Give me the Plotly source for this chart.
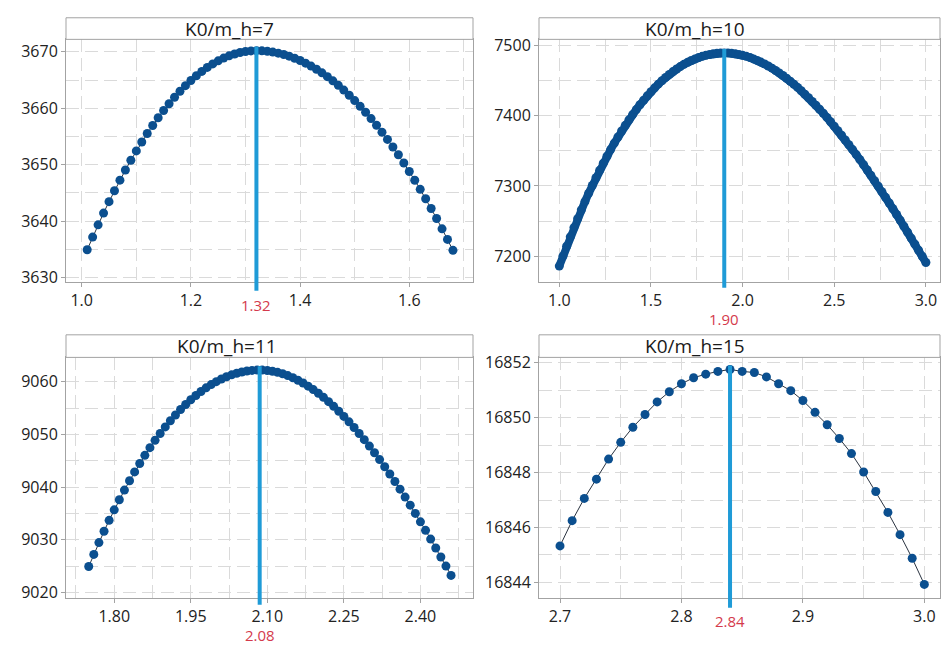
import plotly.graph_objects as go

W, H = 941, 650

titles = ["K0/m_h=7", "K0/m_h=10", "K0/m_h=11", "K0/m_h=15"]

x_k7 = [1.01, 1.02, 1.03, 1.04, 1.05, 1.06, 1.07, 1.08, 1.09, 1.10,
        1.11, 1.12, 1.13, 1.14, 1.15, 1.16, 1.17, 1.18, 1.19, 1.20,
        1.21, 1.22, 1.23, 1.24, 1.25, 1.26, 1.27, 1.28, 1.29, 1.30,
        1.31, 1.32, 1.33, 1.34, 1.35, 1.36, 1.37, 1.38, 1.39, 1.40,
        1.41, 1.42, 1.43, 1.44, 1.45, 1.46, 1.47, 1.48, 1.49, 1.50,
        1.51, 1.52, 1.53, 1.54, 1.55, 1.56, 1.57, 1.58, 1.59, 1.60,
        1.61, 1.62, 1.63, 1.64, 1.65, 1.66, 1.67, 1.68]
y_k7 = [3634.93, 3637.17, 3639.34, 3641.43, 3643.45, 3645.39, 3647.26, 3649.06, 3650.79, 3652.44,
        3654.02, 3655.52, 3656.95, 3658.31, 3659.59, 3660.80, 3661.94, 3663.01, 3664.00, 3664.92,
        3665.76, 3666.53, 3667.23, 3667.85, 3668.40, 3668.88, 3669.28, 3669.61, 3669.87, 3670.05,
        3670.16, 3670.20, 3670.17, 3670.09, 3669.95, 3669.76, 3669.52, 3669.22, 3668.86, 3668.45,
        3667.99, 3667.47, 3666.90, 3666.27, 3665.59, 3664.85, 3664.06, 3663.21, 3662.31, 3661.35,
        3660.34, 3659.28, 3658.16, 3656.99, 3655.76, 3654.48, 3653.14, 3651.75, 3650.30, 3648.80,
        3647.24, 3645.63, 3643.96, 3642.24, 3640.47, 3638.64, 3636.76, 3634.82]

x_k10 = [1.00, 1.02, 1.04, 1.06, 1.08, 1.10, 1.12, 1.14, 1.16, 1.18,
         1.20, 1.22, 1.24, 1.26, 1.28, 1.30, 1.32, 1.34, 1.36, 1.38,
         1.40, 1.42, 1.44, 1.46, 1.48, 1.50, 1.52, 1.54, 1.56, 1.58,
         1.60, 1.62, 1.64, 1.66, 1.68, 1.70, 1.72, 1.74, 1.76, 1.78,
         1.80, 1.82, 1.84, 1.86, 1.88, 1.90, 1.92, 1.94, 1.96, 1.98,
         2.00, 2.02, 2.04, 2.06, 2.08, 2.10, 2.12, 2.14, 2.16, 2.18,
         2.20, 2.22, 2.24, 2.26, 2.28, 2.30, 2.32, 2.34, 2.36, 2.38,
         2.40, 2.42, 2.44, 2.46, 2.48, 2.50, 2.52, 2.54, 2.56, 2.58,
         2.60, 2.62, 2.64, 2.66, 2.68, 2.70, 2.72, 2.74, 2.76, 2.78,
         2.80, 2.82, 2.84, 2.86, 2.88, 2.90, 2.92, 2.94, 2.96, 2.98,
         3.00]
y_k10 = [7186.1, 7200.3, 7214.2, 7227.6, 7240.8, 7253.5, 7265.8, 7277.8, 7289.5, 7300.7,
         7311.6, 7322.2, 7332.4, 7342.2, 7351.7, 7360.8, 7369.6, 7378.1, 7386.2, 7394.0,
         7401.5, 7408.6, 7415.4, 7421.9, 7428.1, 7434.0, 7439.5, 7444.7, 7449.6, 7454.3,
         7458.6, 7462.6, 7466.3, 7469.7, 7472.9, 7475.7, 7478.3, 7480.6, 7482.6, 7484.3,
         7485.7, 7486.9, 7487.8, 7488.5, 7488.9, 7489.0, 7488.9, 7488.5, 7487.8, 7486.9,
         7485.7, 7484.3, 7482.6, 7480.6, 7478.5, 7476.1, 7473.5, 7470.6, 7467.5, 7464.2,
         7460.7, 7457.0, 7453.1, 7448.9, 7444.6, 7440.1, 7435.3, 7430.4, 7425.4, 7420.1,
         7414.7, 7409.1, 7403.3, 7397.4, 7391.3, 7385.0, 7378.6, 7372.1, 7365.4, 7358.6,
         7351.7, 7344.6, 7337.4, 7330.1, 7322.6, 7315.1, 7307.4, 7299.7, 7291.8, 7283.8,
         7275.8, 7267.6, 7259.4, 7251.1, 7242.7, 7234.3, 7225.8, 7217.2, 7208.6, 7199.9,
         7191.1]

x_k11 = [1.75, 1.76, 1.77, 1.78, 1.79, 1.80, 1.81, 1.82, 1.83, 1.84,
         1.85, 1.86, 1.87, 1.88, 1.89, 1.90, 1.91, 1.92, 1.93, 1.94,
         1.95, 1.96, 1.97, 1.98, 1.99, 2.00, 2.01, 2.02, 2.03, 2.04,
         2.05, 2.06, 2.07, 2.08, 2.09, 2.10, 2.11, 2.12, 2.13, 2.14,
         2.15, 2.16, 2.17, 2.18, 2.19, 2.20, 2.21, 2.22, 2.23, 2.24,
         2.25, 2.26, 2.27, 2.28, 2.29, 2.30, 2.31, 2.32, 2.33, 2.34,
         2.35, 2.36, 2.37, 2.38, 2.39, 2.40, 2.41, 2.42, 2.43, 2.44,
         2.45, 2.46]
y_k11 = [9024.94, 9027.24, 9029.48, 9031.63, 9033.70, 9035.69, 9037.60, 9039.44, 9041.20, 9042.88,
         9044.48, 9046.02, 9047.48, 9048.87, 9050.17, 9051.42, 9052.58, 9053.68, 9054.71, 9055.67,
         9056.56, 9057.38, 9058.14, 9058.83, 9059.44, 9060.00, 9060.50, 9060.93, 9061.29, 9061.59,
         9061.84, 9062.02, 9062.13, 9062.19, 9062.19, 9062.12, 9061.98, 9061.77, 9061.49, 9061.15,
         9060.74, 9060.27, 9059.74, 9059.15, 9058.50, 9057.79, 9057.02, 9056.20, 9055.32, 9054.39,
         9053.41, 9052.38, 9051.30, 9050.17, 9049.00, 9047.78, 9046.52, 9045.22, 9043.87, 9042.49,
         9041.06, 9039.61, 9038.11, 9036.58, 9035.02, 9033.42, 9031.80, 9030.14, 9028.46, 9026.75,
         9025.02, 9023.26]

x_k15 = [2.70, 2.71, 2.72, 2.73, 2.74, 2.75, 2.76, 2.77, 2.78, 2.79,
         2.80, 2.81, 2.82, 2.83, 2.84, 2.85, 2.86, 2.87, 2.88, 2.89,
         2.90, 2.91, 2.92, 2.93, 2.94, 2.95, 2.96, 2.97, 2.98, 2.99,
         3.00]
y_k15 = [16845.33, 16846.25, 16847.06, 16847.76, 16848.49, 16849.10, 16849.65, 16850.11, 16850.57, 16850.94,
         16851.23, 16851.45, 16851.58, 16851.68, 16851.75, 16851.68, 16851.64, 16851.48, 16851.23, 16850.98,
         16850.62, 16850.19, 16849.74, 16849.24, 16848.69, 16848.02, 16847.31, 16846.55, 16845.74, 16844.88,
         16843.93]

peak_x = [1.32, 1.90, 2.085, 2.84]
peak_labels = ["1.32", "1.90", "2.08", "2.84"]

xs = [x_k7, x_k10, x_k11, x_k15]
ys = [y_k7, y_k10, y_k11, y_k15]
for a, b in zip(xs, ys):
    if len(a) != len(b):
        raise ValueError(f"length mismatch {len(a)} vs {len(b)}")

# ---- layout of each panel (pixel geometry & axis styling) ----
PANELS = [
    dict(left=66, right=473, top=34, bottom=281, frame_top=12,
         xrange=[0.9712, 1.7167], yrange=[3629.25, 3672.2],
         xtick0=1.0, xdtick=0.2, xminor=0.1, ydtick=10, yminor=5, xfmt=".1f",
         label_y=305, line_bottom=290, title_cx=229, band=False),
    dict(left=539, right=940, top=34, bottom=281, frame_top=12,
         xrange=[0.8893, 3.077], yrange=[7163.7, 7508.4],
         xtick0=1.0, xdtick=0.5, xminor=0.25, ydtick=100, yminor=50, xfmt=".1f",
         label_y=319, line_bottom=287, title_cx=695, band=True),
    dict(left=66, right=473, top=358, bottom=603, frame_top=335,
         xrange=[1.7055, 2.503], yrange=[9019.0, 9064.6],
         xtick0=1.8, xdtick=0.15, xminor=0.075, ydtick=10, yminor=5, xfmt=".2f",
         label_y=641, line_bottom=610, title_cx=227, band=False),
    dict(left=539, right=940, top=358, bottom=603, frame_top=335,
         xrange=[2.6827, 3.0129], yrange=[16843.44, 16852.19],
         xtick0=2.7, xdtick=0.1, xminor=0.05, ydtick=2, yminor=1, xfmt=".1f",
         label_y=627, line_bottom=613, title_cx=695, band=False),
]

FONT = "Open Sans, Noto Sans, sans-serif"
TXT = "#222222"
FRAME = "#a3a3a3"
GRID = "#dadada"
DASH = "13px,6px"
MARK = "#0b4f8f"
VLINE = "#1f9bd7"
RED = "#d43a4c"

fig = go.Figure()
layout = dict(width=W, height=H, margin=dict(l=0, r=0, t=0, b=0),
              paper_bgcolor="white", plot_bgcolor="white", showlegend=False,
              font=dict(family=FONT, color=TXT))
shapes, annotations = [], []

for i, p in enumerate(PANELS):
    n = "" if i == 0 else str(i + 1)
    xa, ya = "x" + n, "y" + n
    if p["band"]:
        line_style = dict(color=MARK, width=8)
    else:
        line_style = dict(color="#2a3340", width=1)
    fig.add_trace(go.Scatter(
        x=xs[i], y=ys[i], xaxis=xa, yaxis=ya, mode="lines+markers",
        marker=dict(size=9, color=MARK),
        line=line_style, hoverinfo="x+y"))

    xdom = [p["left"] / W, p["right"] / W]
    ydom = [1 - p["bottom"] / H, 1 - p["top"] / H]
    common = dict(showgrid=True, gridcolor=GRID, griddash=DASH, gridwidth=1,
                  showline=True, mirror=True, linecolor=FRAME, linewidth=1,
                  ticks="outside", ticklen=4, tickcolor=FRAME, zeroline=False,
                  tickfont=dict(size=16, color=TXT, family=FONT))
    layout["xaxis" + n] = dict(domain=xdom, range=p["xrange"], anchor=ya,
                               tick0=p["xtick0"], dtick=p["xdtick"], tickformat=p["xfmt"],
                               minor=dict(tick0=p["xtick0"], dtick=p["xminor"], showgrid=True,
                                          gridcolor=GRID, griddash=DASH, ticks=""),
                               **common)
    layout["yaxis" + n] = dict(domain=ydom, range=p["yrange"], anchor=xa,
                               tick0=0, dtick=p["ydtick"], tickformat="d",
                               minor=dict(tick0=0, dtick=p["yminor"], showgrid=True,
                                          gridcolor=GRID, griddash=DASH, ticks=""),
                               **common)

    # title strip
    ft = 1 - p["frame_top"] / H
    shapes.append(dict(type="rect", xref="paper", yref="paper",
                       x0=xdom[0], x1=xdom[1], y0=ydom[1], y1=ft,
                       line=dict(color=FRAME, width=1), fillcolor="white"))
    annotations.append(dict(text=titles[i], xref="paper", yref="paper",
                            x=p["title_cx"] / W, y=(ydom[1] + ft) / 2,
                            xanchor="center", yanchor="middle", showarrow=False,
                            font=dict(size=19, color="#1a1a1a", family=FONT)))

    # vertical optimum line
    r0, r1 = p["yrange"]
    peak = max(ys[i])
    ytop = ydom[0] + (peak - r0) / (r1 - r0) * (ydom[1] - ydom[0]) + 4 / H
    shapes.append(dict(type="line", xref=xa, yref="paper",
                       x0=peak_x[i], x1=peak_x[i], y0=1 - p["line_bottom"] / H, y1=ytop,
                       line=dict(color=VLINE, width=4), layer="above"))
    annotations.append(dict(text=peak_labels[i], xref=xa, yref="paper",
                            x=peak_x[i], y=1 - p["label_y"] / H,
                            xanchor="center", yanchor="middle", showarrow=False,
                            font=dict(size=15, color=RED, family=FONT)))

layout["shapes"] = shapes
layout["annotations"] = annotations
fig.update_layout(**layout)
fig.write_html("out.html",
               config={"displayModeBar": False},
               post_script="document.body.style.margin='0px';"
                           "document.body.style.overflow='hidden';")
